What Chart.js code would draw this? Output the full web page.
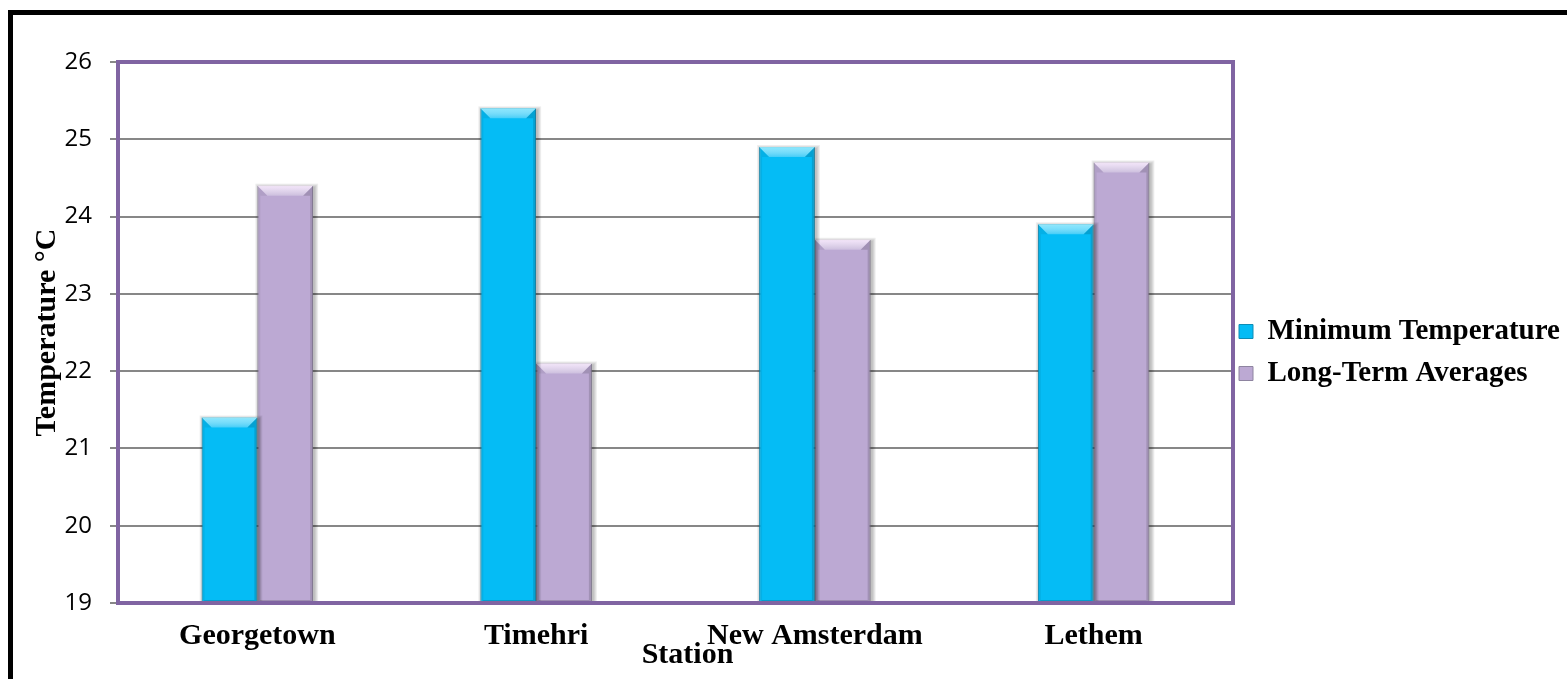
<!DOCTYPE html>
<html>
<head>
<meta charset="utf-8">
<title>Minimum Temperature by Station</title>
<script src="https://cdn.jsdelivr.net/npm/chart.js@4.4.0/dist/chart.umd.min.js"></script>
<style>
    html, body { margin: 0; padding: 0; background: #fff; overflow: hidden; }
    #wrap { position: relative; width: 1567px; height: 679px; overflow: hidden; }
    #frame { position: absolute; left: 8px; top: 10px; right: -20px; bottom: -20px;
             border-top: 5px solid #000; border-left: 5px solid #000; }
    #chartTemp { position: absolute; left: 0; top: 0; }
</style>
</head>
<body>
<div id="wrap">
    <div id="frame"></div>
    <canvas id="chartTemp" width="1567" height="679"></canvas>
</div>
<script>
var stations = ['Georgetown', 'Timehri', 'New Amsterdam', 'Lethem'];
var minTemperature = [21.4, 25.4, 24.9, 23.9];
var longTermAverages = [24.4, 22.1, 23.7, 24.7];
var yTicks = [19, 20, 21, 22, 23, 24, 25, 26];

var SERIF = "'Liberation Serif', 'Times New Roman', serif";
var SANS = "'Open Sans', 'Liberation Sans', sans-serif";

// light top facet, dark right/bottom facets on every bar
function drawBevel(ctx, l, t, r, b, light) {
    var bev = 10, side = 3;
    ctx.save();
    ctx.beginPath();
    ctx.moveTo(l, t);
    ctx.lineTo(r, t);
    ctx.lineTo(r - bev, t + bev);
    ctx.lineTo(l + bev, t + bev);
    ctx.closePath();
    var g = ctx.createLinearGradient(0, t, 0, t + bev);
    g.addColorStop(0, light);
    g.addColorStop(1, 'rgba(255,255,255,0.25)');
    ctx.fillStyle = g;
    ctx.fill();

    ctx.beginPath();
    ctx.moveTo(r, t);
    ctx.lineTo(r, b);
    ctx.lineTo(r - side, b - side);
    ctx.lineTo(r - side, t + bev);
    ctx.lineTo(r - bev, t + bev);
    ctx.closePath();
    ctx.fillStyle = 'rgba(0,0,0,0.14)';
    ctx.fill();

    ctx.beginPath();
    ctx.moveTo(l, b);
    ctx.lineTo(r, b);
    ctx.lineTo(r - side, b - side);
    ctx.lineTo(l + side, b - side);
    ctx.closePath();
    ctx.fillStyle = 'rgba(0,0,0,0.16)';
    ctx.fill();

    ctx.beginPath();
    ctx.moveTo(l, t);
    ctx.lineTo(l + bev, t + bev);
    ctx.lineTo(l + side, t + bev);
    ctx.lineTo(l + side, b - side);
    ctx.lineTo(l, b);
    ctx.closePath();
    ctx.fillStyle = 'rgba(0,0,0,0.06)';
    ctx.fill();
    ctx.restore();
}

// bars start at zero, so cut them at the bottom of the plot
function barBox(chart, bar) {
    var p = bar.getProps(['x', 'y', 'base', 'width'], true);
    return { l: p.x - p.width / 2, t: p.y, r: p.x + p.width / 2,
             b: Math.min(p.base, chart.chartArea.bottom) };
}

var bevelPlugin = {
    id: 'bevel',
    beforeDatasetDraw: function (chart, args) {
        // soft shadow behind the bars, a few widening translucent rects
        var ctx = chart.ctx;
        ctx.save();
        ctx.fillStyle = 'rgba(0,0,0,0.07)';
        args.meta.data.forEach(function (bar) {
            var r = barBox(chart, bar);
            for (var i = 1; i <= 4; i++) {
                ctx.fillRect(r.l - i + 2, r.t - i + 2, r.r - r.l + 2 * i - 1, r.b - r.t + i - 2);
            }
        });
        ctx.restore();
    },
    afterDatasetDraw: function (chart, args) {
        var ctx = chart.ctx;
        var light = args.index === 0 ? 'rgba(150,235,255,0.9)' : 'rgba(250,235,255,0.9)';
        args.meta.data.forEach(function (bar) {
            var r = barBox(chart, bar);
            drawBevel(ctx, r.l, r.t, r.r, r.b, light);
        });
    }
};

// purple plot frame, legend nudge and the "Station" axis title
var framePlugin = {
    id: 'plotFrame',
    afterLayout: function (chart) {
        var lg = chart.legend;
        lg.left -= 7;
        lg.right -= 7;
        lg.top -= 18;
        lg.bottom -= 18;
    },
    afterDatasetsDraw: function (chart) {
        var a = chart.chartArea, ctx = chart.ctx;
        ctx.save();
        ctx.strokeStyle = '#8064A2';
        ctx.lineWidth = 4;
        ctx.strokeRect(a.left, a.top, a.right - a.left, a.bottom - a.top);
        ctx.restore();
    },
    afterDraw: function (chart) {
        var a = chart.chartArea, ctx = chart.ctx;
        ctx.save();
        ctx.font = 'bold 30px ' + SERIF;
        ctx.fillStyle = '#000';
        ctx.textAlign = 'center';
        ctx.textBaseline = 'alphabetic';
        ctx.fillText('Station', (a.left + a.right) / 2 + 12, a.bottom + 60);
        ctx.restore();
    }
};

function initChart() {
    var ctx = document.getElementById('chartTemp');
    new Chart(ctx, {
        type: 'bar',
        data: {
            labels: stations,
            datasets: [{
                label: 'Minimum Temperature',
                data: minTemperature,
                backgroundColor: '#05BCF5',
                borderColor: '#0E8DB5',
                borderWidth: 1,
                categoryPercentage: 0.4,
                barPercentage: 1
            }, {
                label: 'Long-Term Averages',
                data: longTermAverages,
                backgroundColor: '#BCA9D3',
                borderColor: '#8E84A0',
                borderWidth: 1,
                categoryPercentage: 0.4,
                barPercentage: 1
            }]
        },
        options: {
            responsive: false,
            animation: false,
            layout: { padding: { left: 14, top: 62, right: 0, bottom: 0 } },
            plugins: {
                tooltip: { enabled: false },
                legend: {
                    position: 'right',
                    maxWidth: 334,
                    labels: {
                        boxWidth: 14,
                        boxHeight: 14,
                        padding: 13,
                        color: '#000',
                        font: { family: SERIF, size: 29, weight: 'bold' }
                    }
                }
            },
            scales: {
                x: {
                    grid: { display: false, drawTicks: false },
                    border: { display: false },
                    ticks: {
                        padding: 15,
                        color: '#000',
                        font: { family: SERIF, size: 30, weight: 'bold' }
                    },
                    afterFit: function (scale) { scale.height = 76; }
                },
                y: {
                    min: yTicks[0],
                    max: yTicks[yTicks.length - 1],
                    afterBuildTicks: function (scale) {
                        scale.ticks = yTicks.map(function (v) { return { value: v }; });
                    },
                    grid: {
                        color: '#878787',
                        lineWidth: 2,
                        tickLength: 8,
                        tickColor: '#878787',
                        tickWidth: 2
                    },
                    border: { display: false },
                    ticks: {
                        padding: 18,
                        color: '#000',
                        font: { family: SANS, size: 24 }
                    },
                    title: {
                        display: true,
                        text: 'Temperature °C',
                        color: '#000',
                        padding: { top: 15, bottom: 0 },
                        font: { family: SERIF, size: 30, weight: 'bold' }
                    },
                    afterFit: function (scale) { scale.width = 104; }
                }
            }
        },
        plugins: [bevelPlugin, framePlugin]
    });
}

initChart();
</script>
</body>
</html>
